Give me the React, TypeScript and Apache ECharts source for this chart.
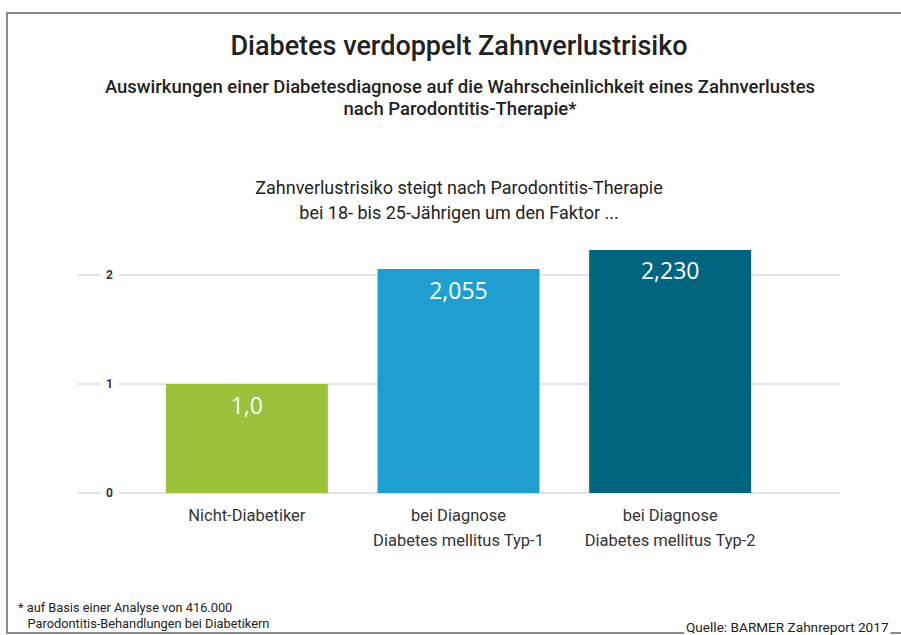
import React, { useEffect, useRef } from "react";
import * as echarts from "echarts";

const categories = ["Nicht-Diabetiker", "bei Diagnose\nDiabetes mellitus Typ-1", "bei Diagnose\nDiabetes mellitus Typ-2"];
const values = [1.0, 2.055, 2.23];
const valueLabels = ["1,0", "2,055", "2,230"];
const barColors = ["#9cc13b", "#1f9fd1", "#02657f"];
const yTicks = [0, 1, 2];

const FONT = "Roboto, 'Noto Sans', sans-serif";

export default function App() {
  const ref = useRef<HTMLDivElement>(null);
  useEffect(() => {
    if (!ref.current) return;
    const chart = echarts.init(ref.current, undefined, { renderer: "svg" });
    chart.setOption({
      animation: false,
      backgroundColor: "#fff",
      textStyle: { fontFamily: FONT },
      grid: [
        { left: 78, right: 61, top: 166, bottom: 142 },
        { left: 141, right: 125, top: 166, bottom: 142 },
      ],
      xAxis: [
        { type: "value", gridIndex: 0, show: false, min: 0, max: 1 },
        {
          type: "category",
          gridIndex: 1,
          data: categories,
          axisLine: { show: false },
          axisTick: { show: false },
          axisLabel: { interval: 0, color: "#333", fontSize: 16.5, margin: 10, lineHeight: 25, fontFamily: FONT },
        },
      ],
      yAxis: [
        {
          type: "value",
          gridIndex: 0,
          min: 0,
          max: 3,
          interval: 1,
          axisLine: { show: false },
          axisTick: { show: false },
          splitLine: { show: true, showMaxLine: false, lineStyle: { color: "#e2e2e2", width: 2 } },
          axisLabel: {
            inside: true,
            margin: 22,
            showMaxLabel: false,
            color: "#333",
            fontSize: 12,
            fontWeight: "bold",
            backgroundColor: "#fff",
            padding: [2, 6],
            formatter: (v: number) => (yTicks.includes(v) ? String(v) : ""),
          },
        },
        { type: "value", gridIndex: 1, min: 0, max: 3, show: false },
      ],
      series: [
        {
          type: "bar",
          xAxisIndex: 1,
          yAxisIndex: 1,
          barWidth: 162,
          data: values.map((v, i) => ({ value: v, itemStyle: { color: barColors[i] } })),
          label: {
            show: true,
            position: "insideTop",
            distance: 9,
            color: "#fff",
            fontSize: 23,
            fontWeight: 500,
            fontFamily: "'Open Sans', sans-serif",
            formatter: (p: any) => valueLabels[p.dataIndex],
          },
        },
      ],
      graphic: [
        {
          type: "rect",
          shape: { x: 7, y: 13, width: 1000, height: 620 },
          style: { fill: "none", stroke: "#8a8a8a", lineWidth: 2 },
          z: 0,
        },
        {
          type: "text",
          x: 459,
          y: 46,
          style: { text: "Diabetes verdoppelt Zahnverlustrisiko", fontSize: 27, fontWeight: 500, fill: "#222", align: "center", verticalAlign: "middle", fontFamily: FONT },
        },
        {
          type: "text",
          x: 460,
          y: 98,
          style: {
            text: "Auswirkungen einer Diabetesdiagnose auf die Wahrscheinlichkeit eines Zahnverlustes\nnach Parodontitis-Therapie*",
            fontSize: 18.5,
            lineHeight: 22,
            fontWeight: 500,
            fill: "#222",
            align: "center",
            verticalAlign: "middle",
            fontFamily: FONT,
          },
        },
        {
          type: "text",
          x: 459,
          y: 200,
          style: {
            text: "Zahnverlustrisiko steigt nach Parodontitis-Therapie\nbei 18- bis 25-Jährigen um den Faktor ...",
            fontSize: 18,
            lineHeight: 25,
            fill: "#222",
            align: "center",
            verticalAlign: "middle",
            fontFamily: FONT,
          },
        },
        {
          type: "text",
          x: 18,
          y: 615,
          style: {
            text: "* auf Basis einer Analyse von 416.000\n   Parodontitis-Behandlungen bei Diabetikern",
            fontSize: 12.8,
            lineHeight: 16,
            fill: "#222",
            align: "left",
            verticalAlign: "middle",
            fontFamily: FONT,
          },
        },
        {
          type: "text",
          x: 684,
          y: 627,
          style: {
            text: "Quelle: BARMER Zahnreport 2017",
            fontSize: 13.6,
            fill: "#222",
            align: "left",
            verticalAlign: "middle",
            backgroundColor: "#fff",
            padding: [2, 2],
            fontFamily: FONT,
          },
          z: 10,
        },
      ],
    });
    return () => chart.dispose();
  }, []);
  return <div ref={ref} style={{ position: "fixed", left: 0, top: 0, width: 901, height: 635 }} />;
}
